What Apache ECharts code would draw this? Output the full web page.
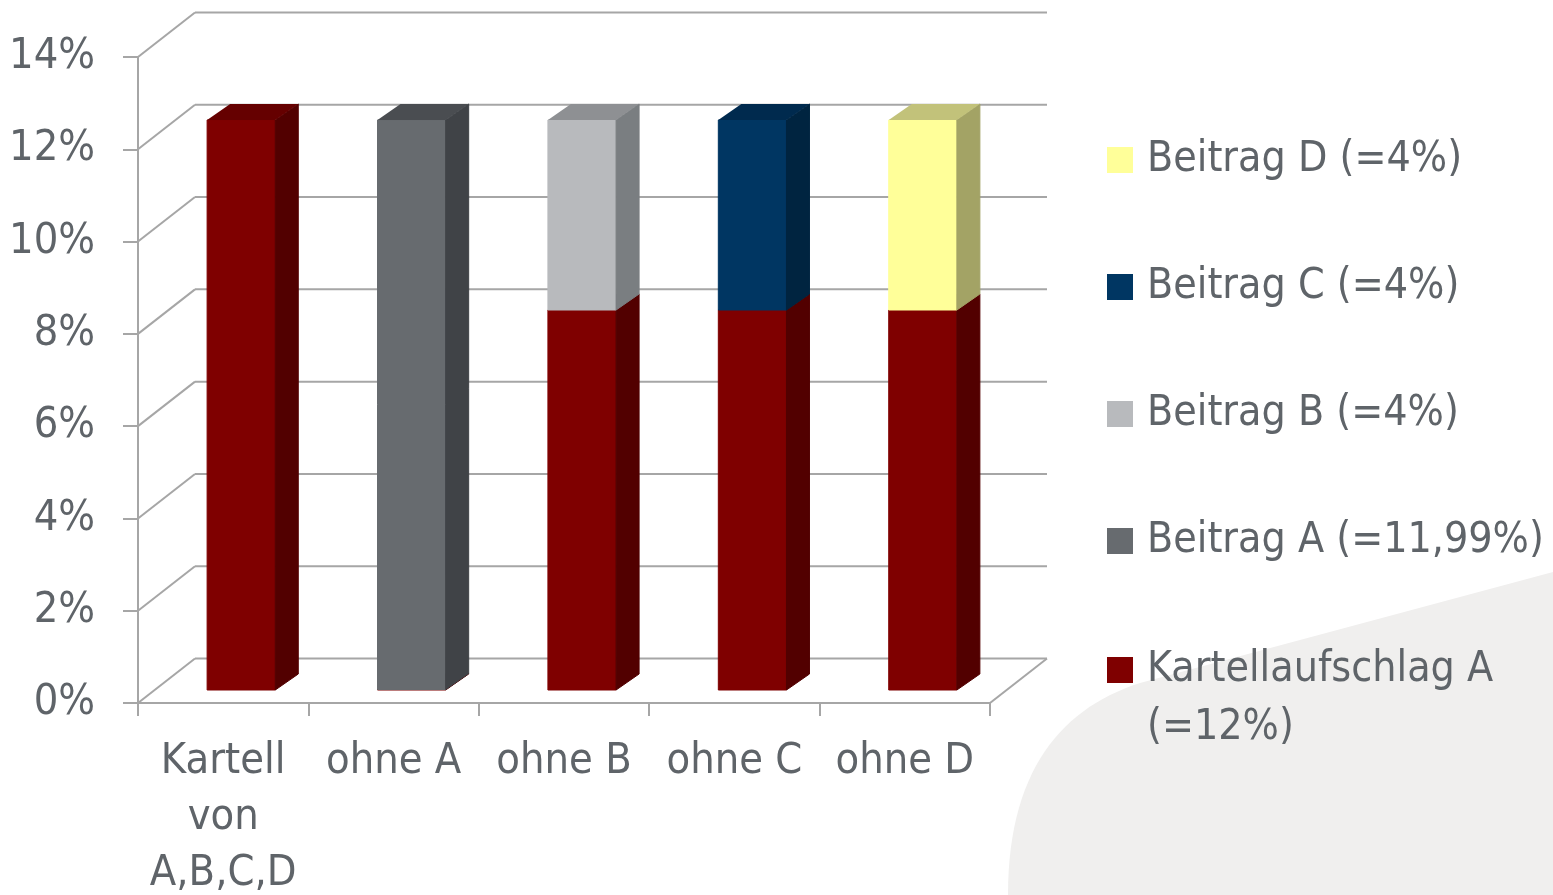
<!DOCTYPE html>
<html>
<head>
<meta charset="utf-8">
<script src="https://cdn.jsdelivr.net/npm/echarts@6/dist/echarts.min.js"></script>
<style>
html,body{margin:0;padding:0;background:#fff;}
#chart{width:1553px;height:895px;}
</style>
</head>
<body>
<div id="chart"></div>
<script>
// ---- data ----
var categories = ["Kartell\nvon\nA,B,C,D", "ohne A", "ohne B", "ohne C", "ohne D"];
var kartellA  = [12, 0.01, 8, 8, 8];
var beitragA  = [0, 11.99, 0, 0, 0];
var beitragB  = [0, 0, 4, 0, 0];
var beitragC  = [0, 0, 0, 4, 0];
var beitragD  = [0, 0, 0, 0, 4];
var yTicks = [0, 2, 4, 6, 8, 10, 12, 14];
var seriesNames = ["Kartellaufschlag A (=12%)", "Beitrag A (=11,99%)", "Beitrag B (=4%)", "Beitrag C (=4%)", "Beitrag D (=4%)"];

// ---- styles ----
var FONT = '"DejaVu Sans Condensed", "Liberation Sans Narrow", sans-serif';
var FS = 43;
var TXT = '#5f6469';
var LINE = '#a6a6a6';
var WDX = 57, WDY = -44.5;     // back wall depth offset
var FX = 18;                   // bar front face offset
var BDX = 23, BDY = -16;       // bar depth
var palette = [
  {front:'#7f0000', side:'#520000', top:'#650000'},
  {front:'#676b6f', side:'#404347', top:'#4a4d51'},
  {front:'#b8babd', side:'#7a7e81', top:'#8e9093'},
  {front:'#003662', side:'#002440', top:'#002a4e'},
  {front:'#ffff99', side:'#a3a365', top:'#c2c27a'}
];

// decorative background blob (shape outline, not data)
function blobPoints() {
  var pts = [[1553, 572], [1140, 683]];
  var p0 = [1140, 683], c1 = [1062, 708], c2 = [1008, 770], p3 = [1008, 895];
  for (var k = 1; k <= 30; k++) {
    var t = k / 30, u = 1 - t;
    pts.push([
      u*u*u*p0[0] + 3*u*u*t*c1[0] + 3*u*t*t*c2[0] + t*t*t*p3[0],
      u*u*u*p0[1] + 3*u*u*t*c1[1] + 3*u*t*t*c2[1] + t*t*t*p3[1]
    ]);
  }
  pts.push([1553, 895]);
  return pts;
}

function stacked(base, vals) {
  return vals.map(function (v, i) { return [i, base ? base[i] : 0, (base ? base[i] : 0) + v]; });
}

function barRender(c) {
  return function (params, api) {
    var i = api.value(0), b = api.value(1), t = api.value(2);
    if (!(t - b > 0)) return;
    var pB = api.coord([i, b]), pT = api.coord([i, t]);
    var bw = api.size([1, 0])[0] * 0.4;
    var x0 = pB[0] + FX - bw / 2, x1 = x0 + bw;
    var yb = pB[1], yt = pT[1];
    return {type:'group', children:[
      {type:'rect', shape:{x:x0, y:yt, width:bw, height:yb - yt}, style:{fill:c.front, stroke:c.front, lineWidth:1}},
      {type:'polygon', shape:{points:[[x1,yt],[x1+BDX,yt+BDY],[x1+BDX,yb+BDY],[x1,yb]]}, style:{fill:c.side, stroke:c.side, lineWidth:1}},
      {type:'polygon', shape:{points:[[x0,yt],[x1,yt],[x1+BDX,yt+BDY],[x0+BDX,yt+BDY]]}, style:{fill:c.top}}
    ]};
  };
}

function wallRender(params, api) {
  var v = api.value(1);
  var cs = params.coordSys;
  var xl = cs.x, xr = cs.x + cs.width;
  var y = api.coord([0, v])[1];
  var ls = {stroke: LINE, lineWidth: 2};
  var ch = [
    {type:'line', shape:{x1:xl, y1:y, x2:xl + WDX, y2:y + WDY}, style:ls},
    {type:'line', shape:{x1:xl + WDX, y1:y + WDY, x2:xr + WDX, y2:y + WDY}, style:ls}
  ];
  if (v === 0) ch.push({type:'line', shape:{x1:xr, y1:y, x2:xr + WDX, y2:y + WDY}, style:ls});
  return {type:'group', children:ch};
}

var barData = [
  stacked(null, kartellA),
  stacked(kartellA, beitragA),
  stacked(kartellA, beitragB),
  stacked(kartellA, beitragC),
  stacked(kartellA, beitragD)
];

var series = [{
  type:'custom', name:'wall', silent:true, z:1,
  xAxisIndex:0, yAxisIndex:0,
  renderItem: wallRender,
  data: yTicks.map(function (t) { return [0, t]; }),
  encode: {x: 0, y: 1}
}];
seriesNames.forEach(function (n, k) {
  series.push({
    type:'custom', name:n, z:3 + k,
    xAxisIndex:1, yAxisIndex:1,
    itemStyle:{color: palette[k].front},
    renderItem: barRender(palette[k]),
    encode:{x:0, y:[1, 2]},
    data: barData[k]
  });
});

var chart = echarts.init(document.getElementById('chart'), null, {renderer:'canvas'});
chart.setOption({
  animation:false,
  backgroundColor:'#ffffff',
  textStyle:{fontFamily:FONT},
  graphic:[{
    type:'polygon', z:-10, silent:true,
    shape:{points: blobPoints()},
    style:{fill:'#f0efee'}
  }],
  legend:[{
    orient:'vertical', left:1107, top:131, padding:0,
    itemWidth:26, itemHeight:26, itemGap:69, icon:'rect',
    data:[seriesNames[4], seriesNames[3], seriesNames[2], seriesNames[1]],
    textStyle:{fontFamily:FONT, fontSize:42.5, color:TXT, lineHeight:58, padding:[0,0,0,9]}
  },{
    orient:'vertical', left:1107, top:583, padding:0,
    itemWidth:26, itemHeight:26, icon:'rect',
    data:[seriesNames[0]],
    formatter:function (n) { return '\n' + n.replace(' (', '\n('); },
    textStyle:{fontFamily:FONT, fontSize:42.5, color:TXT, lineHeight:58, padding:[0,0,0,9]}
  }],
  grid:[
    {left:138, right:563, top:57, bottom:192, outerBoundsMode:'none', containLabel:false},
    {left:138, right:563, top:25, bottom:205, outerBoundsMode:'none', containLabel:false}
  ],
  xAxis:[{
    type:'category', gridIndex:0, data:categories, boundaryGap:true,
    axisLine:{lineStyle:{color:LINE, width:2}},
    axisTick:{show:true, length:13, lineStyle:{color:LINE, width:2}},
    axisLabel:{fontFamily:FONT, fontSize:FS, color:TXT, lineHeight:56, margin:31, interval:0}
  },{
    type:'category', gridIndex:1, data:categories, show:false
  }],
  yAxis:[{
    type:'value', gridIndex:0, min:0, max:14, interval:2,
    axisLine:{show:true, lineStyle:{color:LINE, width:2}},
    axisTick:{show:true, length:15, lineStyle:{color:LINE, width:2}},
    splitLine:{show:false},
    axisLabel:{fontFamily:FONT, fontSize:FS, color:TXT, margin:43, formatter:'{value}%'}
  },{
    type:'value', gridIndex:1, min:0, max:14, show:false, splitLine:{show:false}
  }],
  series: series
});
</script>
</body>
</html>
